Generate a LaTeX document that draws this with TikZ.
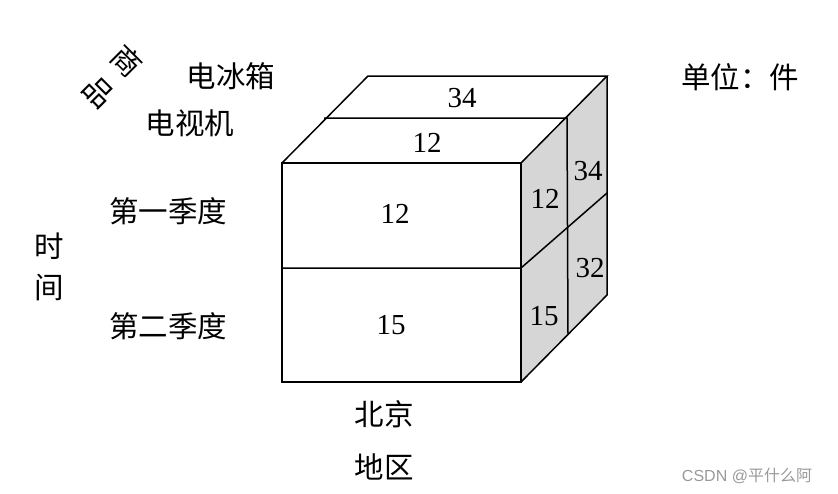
\documentclass[tikz,border=0pt]{standalone}
\usepackage{fontspec}
\setmainfont{Liberation Serif}
\newfontfamily\cjk{Noto Sans CJK SC}
\newfontfamily\wmfont{Liberation Sans}
\begin{document}
\begin{tikzpicture}[x=1pt,y=-1pt,
  edge/.style={line width=1.5pt,line join=miter},
  num/.style={font=\fontsize{29}{29}\selectfont,inner sep=0pt},
  lab/.style={font=\cjk\fontsize{29.5}{29.5}\selectfont,inner sep=0pt}]
\useasboundingbox (0,0) rectangle (838,493);
% corners
\coordinate (A) at (282,163);
\coordinate (B) at (521,163);
\coordinate (C) at (521,382);
\coordinate (D) at (282,382);
\coordinate (E) at (368,76);
\coordinate (F) at (607,76);
\coordinate (G) at (607,295);
\coordinate (ML) at (282,268);
\coordinate (MR) at (521,268);
\coordinate (MG) at (607,193);
\coordinate (TL) at (324,118);
\coordinate (TR) at (567,118);
\coordinate (TB) at (568,334);
% faces
\fill[white] (A) -- (E) -- (F) -- (B) -- cycle;
\fill[white] (A) rectangle (C);
\fill[gray!32] (B) -- (F) -- (G) -- (C) -- cycle;
\draw[edge] (A) -- (B) -- (C) -- (D) -- cycle;
\draw[edge] (A) -- (E) -- (F) -- (B);
\draw[edge] (F) -- (G) -- (C);
\draw[edge] (ML) -- (MR) -- (MG);
\draw[edge] (TL) -- (TR) -- (TB);
% numbers
\node[num] (n1) at (462,98) {34};
\node[num] (n2) at (427,143) {12};
\node[num] (n3) at (395,214) {12};
\node[num] (n4) at (391,325) {15};
\node[num] (n5) at (545,199) {12};
\node[num] (n6) at (588,171) {34};
\node[num] (n7) at (544,316) {15};
\node[num] (n8) at (590,268) {32};
% labels
\node[lab] (l1) at (231,76) {电冰箱};
\node[lab] (l2) at (190,123) {电视机};
\node[lab,rotate=-45] (l3) at (127,61) {商};
\node[lab,rotate=-45] (l4) at (98,92) {品};
\node[lab] (l5) at (168,211) {第一季度};
\node[lab] (l6) at (168,326) {第二季度};
\node[lab] (l7) at (49,246) {时};
\node[lab] (l8) at (49,287) {间};
\node[lab] (l9) at (384,414) {北京};
\node[lab] (l10) at (384,467) {地区};
\node[lab] (l11) at (740,77) {单位：件};
\node[inner sep=0pt,text=gray!80,font=\cjk\fontsize{16}{16}\selectfont] (wm) at (747,476) {{\wmfont CSDN @}平什么阿};
\end{tikzpicture}
\end{document}
